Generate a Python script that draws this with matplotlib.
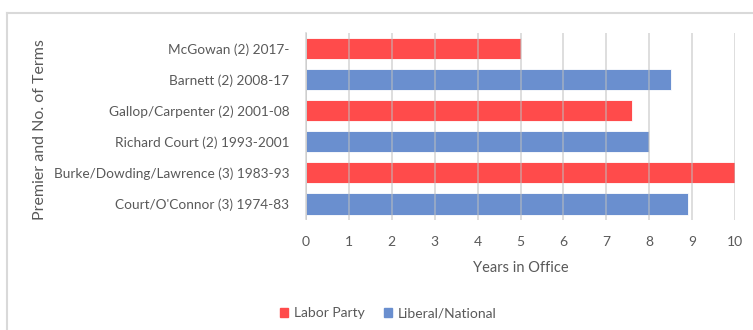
import matplotlib.pyplot as plt
from matplotlib.patches import Patch
from matplotlib.lines import Line2D

premiers = [
    "Court/O'Connor (3) 1974-83",
    "Burke/Dowding/Lawrence (3) 1983-93",
    "Richard Court (2) 1993-2001",
    "Gallop/Carpenter (2) 2001-08",
    "Barnett (2) 2008-17",
    "McGowan (2) 2017-",
]
years = [8.9, 10, 8, 7.6, 8.5, 5]
party = ["Liberal/National", "Labor Party", "Liberal/National",
         "Labor Party", "Liberal/National", "Labor Party"]
x_ticks = list(range(0, 11))

colors = {"Labor Party": "#FF4B4B", "Liberal/National": "#6A8FCF"}
text_color = "#595959"
plt.rcParams["font.family"] = ["Lato", "DejaVu Sans"]

fig = plt.figure(figsize=(7.53, 3.3), dpi=100)
ax = fig.add_axes([306 / 753, 1 - 219.5 / 330, (735 - 306) / 753, (219.5 - 33) / 330])

bar_colors = [colors[p] for p in party]
ax.barh(range(len(premiers)), years, height=0.68, color=bar_colors,
        edgecolor="white", linewidth=0.6, zorder=2)

ax.set_xlim(0, 10)
ax.set_ylim(-0.5, len(premiers) - 0.5)
ax.set_xticks(x_ticks)
ax.set_yticks(range(len(premiers)))
ax.set_yticklabels(premiers)
ax.grid(axis="x", color="#BFBFBF", alpha=0.6, linewidth=1.2, zorder=3)
ax.set_axisbelow(False)
for s in ["top", "right", "bottom"]:
    ax.spines[s].set_visible(False)
ax.spines["left"].set_color("#D9D9D9")
ax.spines["left"].set_linewidth(1.2)
ax.tick_params(axis="both", length=0, labelsize=10, labelcolor=text_color)
ax.tick_params(axis="y", pad=12, labelsize=9.8)
ax.tick_params(axis="x", pad=12)

ax.set_xlabel("Years in Office", fontsize=10.5, color=text_color, labelpad=9)
fig.text(40 / 753, 1 - 130 / 330, "Premier and No. of Terms", rotation=90,
         ha="center", va="center", fontsize=11.5, color=text_color)

handles = [Patch(color=colors["Labor Party"], label="Labor Party"),
           Patch(color=colors["Liberal/National"], label="Liberal/National")]
fig.legend(handles=handles, loc="center", bbox_to_anchor=(388 / 753, 1 - 313 / 330),
           ncol=2, frameon=False, fontsize=10, labelcolor=text_color,
           handlelength=0.6, handleheight=0.6, handletextpad=0.4, columnspacing=1.4)

# outer chart frame (top and left edges)
fig.add_artist(Line2D([7 / 753, 1], [1 - 13 / 330, 1 - 13 / 330], color="#D9D9D9",
                      linewidth=1.5, transform=fig.transFigure))
fig.add_artist(Line2D([7 / 753, 7 / 753], [0, 1 - 13 / 330], color="#D9D9D9",
                      linewidth=1.5, transform=fig.transFigure))

fig.savefig("out.png", dpi=100)
